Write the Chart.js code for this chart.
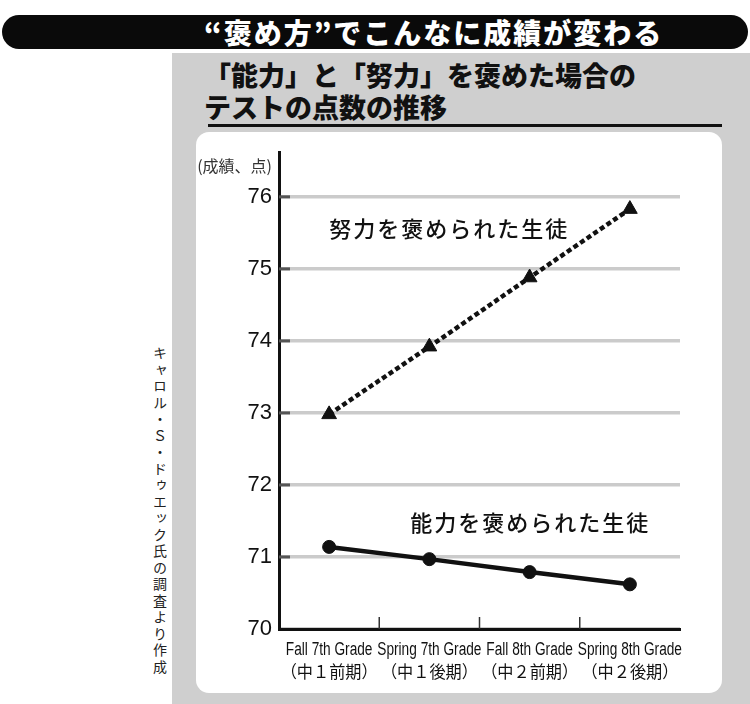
<!DOCTYPE html>
<html><head><meta charset="utf-8">
<script src="https://cdn.jsdelivr.net/npm/chart.js@4.4.0/dist/chart.umd.min.js"></script>
<style>
html,body{margin:0;padding:0;background:#fff;width:750px;height:704px;overflow:hidden;font-family:"Noto Sans CJK JP",sans-serif;}
#bar{position:absolute;left:2px;top:15px;width:746px;height:34px;background:#0a0a0a;border-radius:17px;}
#title{position:absolute;left:204px;top:14px;height:36px;line-height:36px;color:#fff;font-size:28px;font-weight:900;letter-spacing:2px;white-space:nowrap;}
#gray{position:absolute;left:172px;top:53px;width:578px;height:651px;background:#cfcfcf;}
.sub{position:absolute;left:204px;font-size:27px;font-weight:900;color:#111;white-space:nowrap;line-height:32px;}
#rule{position:absolute;left:208px;top:124px;width:514px;height:3px;background:#111;}
#panel{position:absolute;left:196px;top:132px;width:526px;height:561px;background:#fff;border-radius:13px;}
#src{position:absolute;left:150px;top:346px;writing-mode:vertical-rl;font-size:14px;letter-spacing:2.5px;color:#222;white-space:nowrap;}
#c{position:absolute;left:196px;top:132px;}
</style></head>
<body>
<div id="bar"></div>
<div id="title">“褒め方”でこんなに成績が変わる</div>
<div id="gray"></div>
<div class="sub" style="top:59px">「能力」と「努力」を褒めた場合の</div>
<div class="sub" style="top:91px">テストの点数の推移</div>
<div id="rule"></div>
<div id="panel"></div>
<div id="src">キャロル・Ｓ・ドゥエック氏の調査より作成</div>
<canvas id="c" width="526" height="561"></canvas>
<script>
const categories = [
  ['Fall 7th Grade', '（中１前期）'],
  ['Spring 7th Grade', '（中１後期）'],
  ['Fall 8th Grade', '（中２前期）'],
  ['Spring 8th Grade', '（中２後期）']
];
const effortScores = [72.98, 73.92, 74.88, 75.83];
const abilityScores = [71.14, 70.97, 70.79, 70.62];
const yTickValues = [70, 71, 72, 73, 74, 75, 76];
const effortLabel = '努力を褒められた生徒';
const abilityLabel = '能力を褒められた生徒';
const yAxisTitle = '(成績、点)';

const decor = {
  id: 'decor',
  beforeDatasetsDraw(chart) {
    const {ctx, scales: {x, y}} = chart;
    ctx.save();
    ctx.strokeStyle = '#555';
    ctx.lineWidth = 3;
    y.ticks.forEach(t => {
      if (t.value === y.min) return;
      const py = y.getPixelForValue(t.value);
      ctx.beginPath(); ctx.moveTo(x.left, py); ctx.lineTo(x.left + 11, py); ctx.stroke();
    });
    ctx.strokeStyle = '#333';
    ctx.lineWidth = 1.5;
    for (let i = 0; i < categories.length - 1; i++) {
      const px = (x.getPixelForValue(i) + x.getPixelForValue(i + 1)) / 2;
      ctx.beginPath(); ctx.moveTo(px, y.bottom); ctx.lineTo(px, y.bottom - 12); ctx.stroke();
    }
    ctx.restore();
  },
  afterDraw(chart, args, opts) {
    const {ctx, scales: {x, y}} = chart;
    ctx.save();
    // category labels (condensed two-line)
    ctx.fillStyle = '#111';
    ctx.textAlign = 'center';
    ctx.textBaseline = 'middle';
    categories.forEach((lab, i) => {
      const px = x.getPixelForValue(i);
      ctx.save();
      ctx.translate(px, y.bottom + 21);
      ctx.scale(0.76, 1);
      ctx.font = '18px "Liberation Sans", Arial, sans-serif';
      ctx.fillText(lab[0], 0, 0);
      ctx.restore();
      ctx.save();
      ctx.translate(px, y.bottom + 43);
      ctx.scale(0.95, 1);
      ctx.font = '17px "Noto Sans CJK JP"';
      ctx.fillText(lab[1], 0, 0);
      ctx.restore();
    });
    ctx.fillStyle = '#333';
    ctx.font = '16px "Noto Sans CJK JP"';
    ctx.textAlign = 'right';
    ctx.fillText(yAxisTitle, x.left - 7, y.top + 14);
    ctx.fillStyle = '#111';
    ctx.font = '500 22px "Noto Sans CJK JP"';
    ctx.textAlign = 'left';
    ctx.letterSpacing = '2px';
    opts.labels.forEach(l => {
      const px = x.getPixelForValue(0) + l.dx * (x.getPixelForValue(1) - x.getPixelForValue(0));
      ctx.fillText(l.text, px, y.getPixelForValue(l.v));
    });
    ctx.restore();
  }
};

new Chart(document.getElementById('c'), {
  type: 'line',
  data: {
    labels: categories,
    datasets: [
      {
        data: effortScores,
        borderColor: '#111', backgroundColor: '#111',
        borderWidth: 4.5, borderDash: [5, 3],
        pointStyle: 'triangle', pointRadius: 8.5, pointBorderWidth: 1,
        pointBorderColor: '#111', pointBackgroundColor: '#111', tension: 0
      },
      {
        data: abilityScores,
        borderColor: '#111', backgroundColor: '#111',
        borderWidth: 4.5,
        pointStyle: 'circle', pointRadius: 6.5, pointBorderWidth: 1,
        pointBorderColor: '#111', pointBackgroundColor: '#111', tension: 0
      }
    ]
  },
  options: {
    responsive: false,
    animation: false,
    layout: {padding: {top: 18, right: 42, left: 0, bottom: 0}},
    plugins: {
      legend: {display: false},
      tooltip: {enabled: false},
      decor: {labels: [
        {text: effortLabel, dx: 0, v: 75.56},
        {text: abilityLabel, dx: 0.81, v: 71.47}
      ]}
    },
    scales: {
      x: {
        type: 'category', offset: true,
        grid: {display: false, drawTicks: false},
        border: {display: true, color: '#111', width: 3},
        ticks: {display: false},
        afterFit(s) { s.height = 64; }
      },
      y: {
        min: 70, max: 76.62,
        afterBuildTicks(s) { s.ticks = yTickValues.map(v => ({value: v})); },
        grid: {color: '#cbcbcb', lineWidth: 3.5, drawTicks: false},
        border: {color: '#111', width: 3},
        ticks: {color: '#111', padding: 7, font: {family: '"Liberation Sans", Arial, sans-serif', size: 22}},
        afterFit(s) { s.width = 83; }
      }
    }
  },
  plugins: [decor]
});
</script>
</body></html>
